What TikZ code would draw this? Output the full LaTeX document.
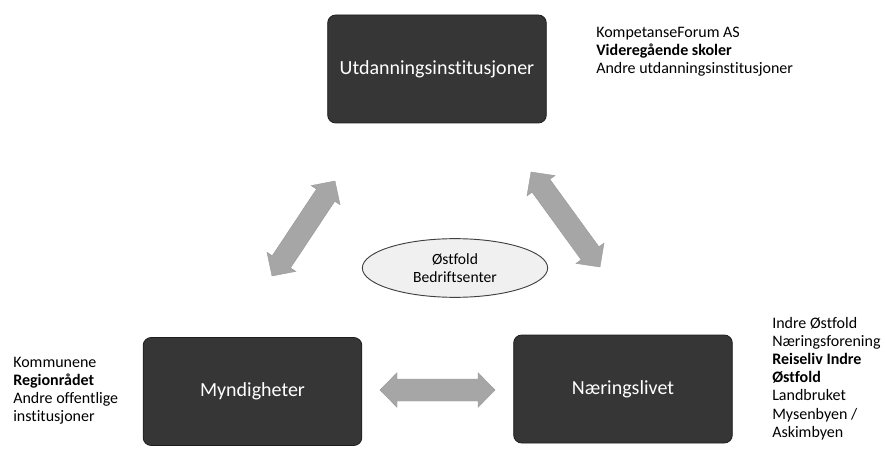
\documentclass[tikz,border=0pt]{standalone}
\usepackage{fontspec}
\setmainfont{Carlito}[Ligatures=NoCommon]
\usetikzlibrary{calc,shapes.geometric}
\definecolor{boxfill}{HTML}{363636}
\definecolor{boxline}{HTML}{1E1E1E}
\definecolor{arrfill}{HTML}{A6A6A6}
\definecolor{ellfill}{HTML}{F0F0F0}
\tikzset{
  mainbox/.style={draw=boxline, line width=0.6pt, fill=boxfill, rounded corners=6pt,
    minimum width=164pt, minimum height=81pt, text=white, font=\fontsize{15}{18}\selectfont},
  sidetext/.style={align=left, inner sep=0pt, anchor=north west, font=\fontsize{12}{13.6}\selectfont},
  centerell/.style={ellipse, draw=black!75, line width=0.7pt, fill=ellfill,
    minimum width=139pt, minimum height=44pt, inner sep=0pt, align=center,
    font=\fontsize{11.7}{13.8}\selectfont},
  arrowfill/.style={fill=arrfill, draw=black!40, line width=0.3pt}
}
\newcommand{\dblarr}[2]{%
  \path (#1) coordinate (s) (#2) coordinate (e);
  \path ($(s)!12.75pt!(e)$) coordinate (h1) ($(e)!12.75pt!(s)$) coordinate (h2);
  \draw[arrowfill] (s) -- ($(h1)!13pt!90:(e)$) -- ($(h1)!8.25pt!90:(e)$)
    -- ($(h2)!8.25pt!-90:(s)$) -- ($(h2)!13pt!-90:(s)$) -- (e)
    -- ($(h2)!13pt!90:(s)$) -- ($(h2)!8.25pt!90:(s)$)
    -- ($(h1)!8.25pt!-90:(e)$) -- ($(h1)!13pt!-90:(e)$) -- cycle;
}
\begin{document}
\begin{tikzpicture}[x=0.75pt,y=-0.75pt]
\useasboundingbox (0,0) rectangle (885,452);
% boxes
\node[mainbox] (utd) at (437,69) {Utdanningsinstitusjoner};
\node[mainbox] (myn) at (252.5,391.5) {Myndigheter};
\node[mainbox] (nar) at (623,389) {Næringslivet};
% centre ellipse
\node[centerell] (ost) at (455,268) {Østfold\\Bedriftsenter};
% side texts
\node[sidetext] (utdtxt) at (596,27) {KompetanseForum AS\\\textbf{Videregående skoler}\\Andre utdanningsinstitusjoner};
\node[sidetext] (myntxt) at (13,357) {Kommunene\\\textbf{Regionrådet}\\Andre offentlige\\institusjoner};
\node[sidetext] (nartxt) at (772,317) {Indre Østfold\\Næringsforening\\\textbf{Reiseliv Indre}\\\textbf{Østfold}\\Landbruket\\Mysenbyen /\\Askimbyen};
% arrow end points
\coordinate (la1) at (272,276);
\coordinate (la2) at (335,181);
\coordinate (ra1) at (531,172);
\coordinate (ra2) at (600,267);
\coordinate (ha1) at (380,390);
\coordinate (ha2) at (495,390);
\dblarr{la1}{la2}
\dblarr{ra1}{ra2}
\dblarr{ha1}{ha2}
\end{tikzpicture}
\end{document}
